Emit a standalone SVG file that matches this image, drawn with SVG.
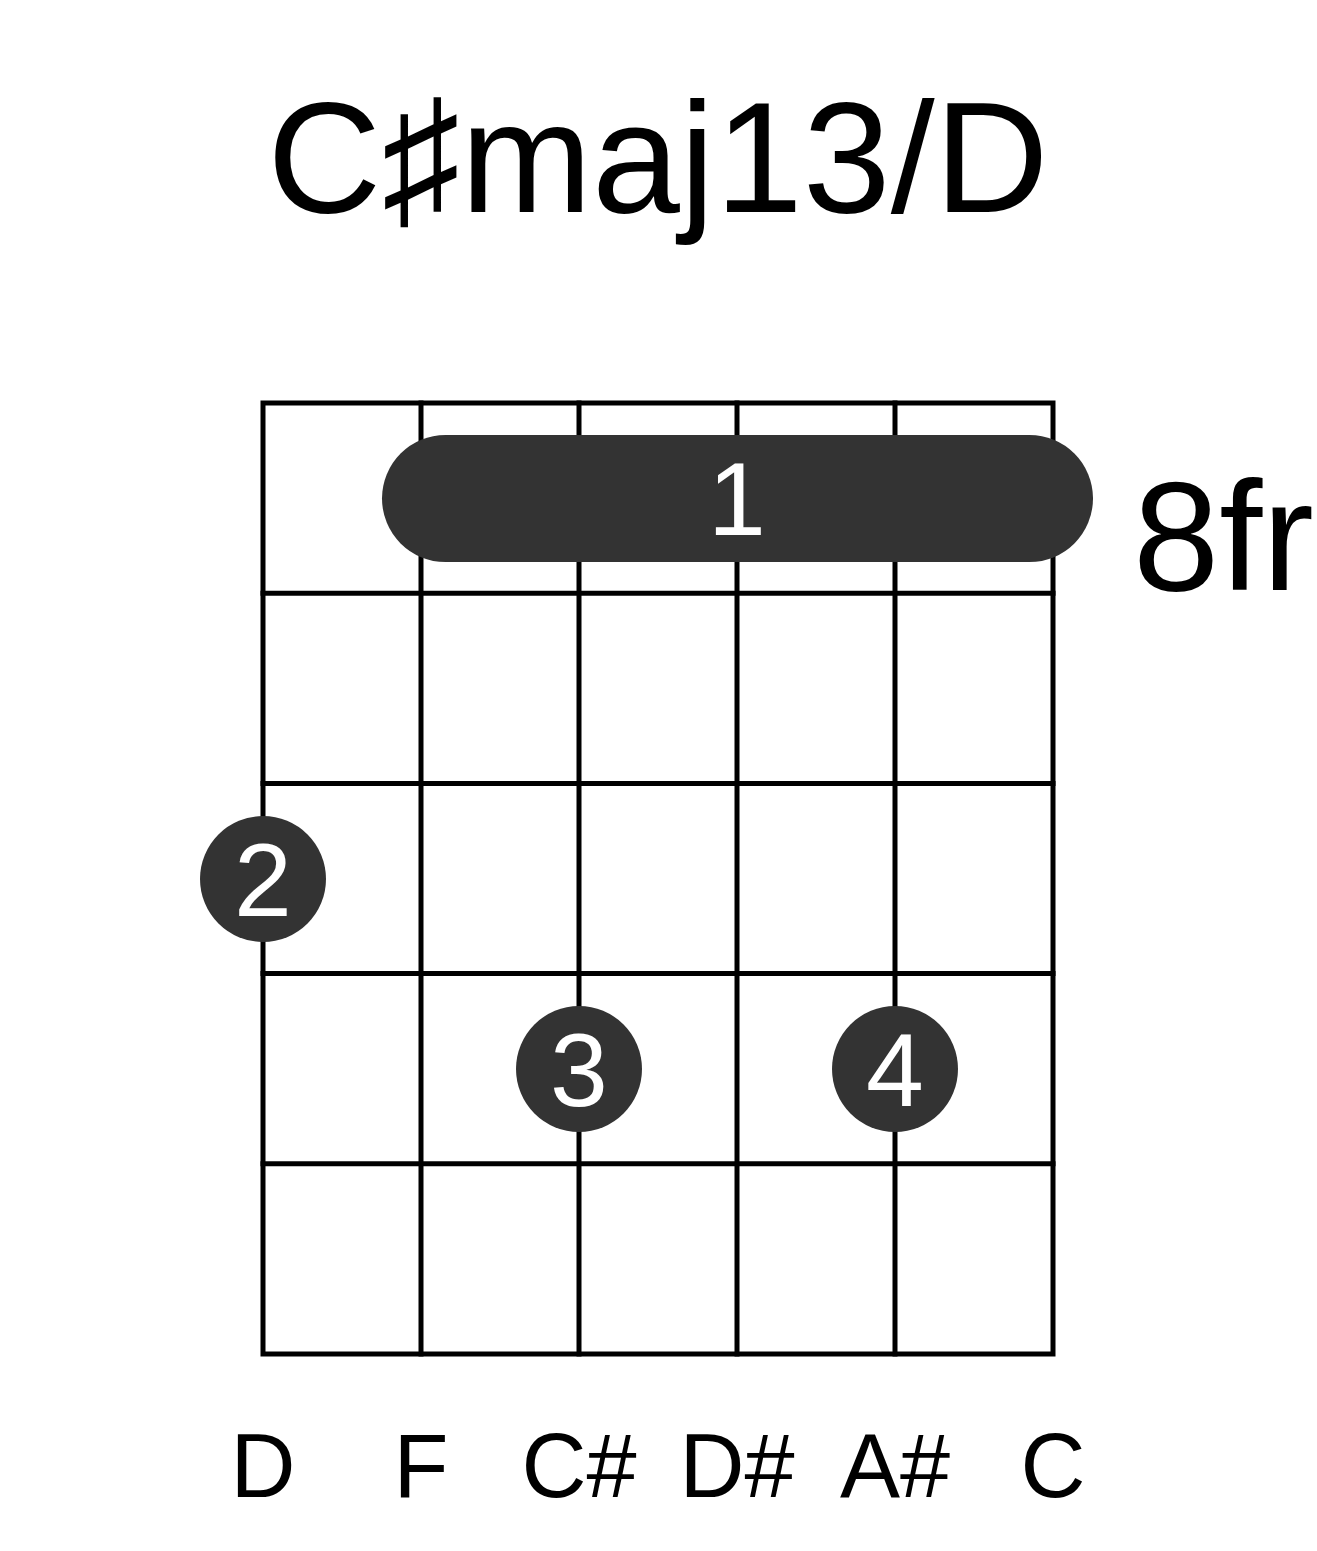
<svg xmlns="http://www.w3.org/2000/svg" width="1317" height="1551" viewBox="0 0 1317 1551">
<style>
.g{stroke:#000;stroke-width:5;fill:none;stroke-linecap:square}
.dot{fill:#333}
.fn{font-family:"Liberation Sans",Arial,sans-serif;fill:#fff;text-anchor:middle;font-size:104px}
.lbl{font-family:"Liberation Sans",Arial,sans-serif;fill:#000;text-anchor:middle}
</style>
<rect width="1317" height="1551" fill="#fff"/>
<text id="title" class="lbl" x="658" y="212" font-size="158">C♯maj13/D</text>
<g id="grid" class="g">
<rect x="263" y="403" width="790" height="951"/>
<line x1="421" y1="403" x2="421" y2="1354"/>
<line x1="579" y1="403" x2="579" y2="1354"/>
<line x1="737" y1="403" x2="737" y2="1354"/>
<line x1="895" y1="403" x2="895" y2="1354"/>
<line x1="263" y1="593.2" x2="1053" y2="593.2"/>
<line x1="263" y1="783.4" x2="1053" y2="783.4"/>
<line x1="263" y1="973.6" x2="1053" y2="973.6"/>
<line x1="263" y1="1163.8" x2="1053" y2="1163.8"/>
</g>
<g id="barre">
<rect class="dot" x="382" y="435" width="711" height="127" rx="63.5" ry="63.5"/>
<text class="fn" x="737" y="535">1</text>
</g>
<text id="fret" class="lbl" x="1133" y="590" font-size="155" style="text-anchor:start">8fr</text>
<g id="f2"><circle class="dot" cx="263" cy="879" r="63"/><text class="fn" x="263" y="916">2</text></g>
<g id="f3"><circle class="dot" cx="579" cy="1069" r="63"/><text class="fn" x="579" y="1106">3</text></g>
<g id="f4"><circle class="dot" cx="895" cy="1069" r="63"/><text class="fn" x="895" y="1106">4</text></g>
<g id="notes" class="lbl" font-size="90">
<text x="263" y="1497">D</text>
<text x="421" y="1497">F</text>
<text x="579" y="1497">C#</text>
<text x="737" y="1497">D#</text>
<text x="895" y="1497">A#</text>
<text x="1053" y="1497">C</text>
</g>
</svg>
